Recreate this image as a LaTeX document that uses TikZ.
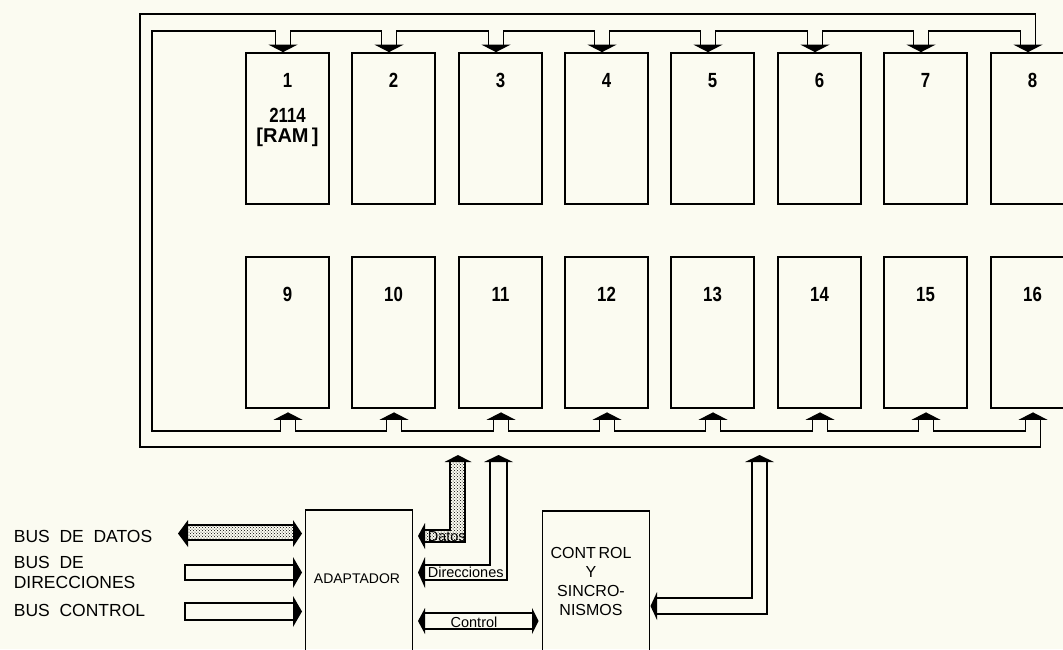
\documentclass[tikz,border=0pt]{standalone}
\usepackage{fontspec}
\setmainfont{Liberation Sans}
\newfontfamily\condfont[FakeStretch=0.82]{Liberation Sans}
\usetikzlibrary{calc,patterns}
\definecolor{paper}{RGB}{251,251,241}
\tikzset{every picture/.style={line width=1.7pt}}
\tikzset{
  chip/.style={draw, minimum width=83pt, minimum height=151pt, inner sep=0pt},
  unit/.style={draw, line width=1.3pt, minimum width=107pt, minimum height=160pt, inner sep=0pt},
  num/.style={font=\condfont\bfseries\fontsize{20.5}{20}\selectfont, inner sep=0pt, anchor=base},
  buslbl/.style={font=\fontsize{17.5}{19}\selectfont, inner sep=0pt, anchor=base west},
  unitlbl/.style={font=\fontsize{14}{16}\selectfont, inner sep=0pt, anchor=base},
  sigl/.style={font=\fontsize{14.5}{16}\selectfont, inner sep=0pt, anchor=base},
  dotfill/.style={pattern=crosshatch dots}
}

\begin{document}
\begin{tikzpicture}[x=1pt,y=-1pt]
\fill[paper] (0,0) rectangle (1063,649);
\useasboundingbox (0,0) rectangle (1063,649);

%memory chips, two rows of eight
\foreach \i/\x in {1/287.5,2/393.5,3/500.5,4/606.5,5/712.5,6/819.5,7/925.5,8/1032.5}{
  \pgfmathtruncatemacro\j{\i+8}
  \node[chip] (c\i) at (\x,128.5) {};
  \node[chip] (c\j) at (\x,332.5) {};
  \node[num] (n\i) at ($(c\i.north)+(0,35)$) {\i};
  \node[num] (n\j) at ($(c\j.north)+(0,45)$) {\j};
  %arrow feet, top row
  \coordinate (hl\i) at ($(c\i.north)+(-12,-7)$);
  \coordinate (hr\i) at ($(c\i.north)+(3,-7)$);
  \fill ($(c\i.north)+(-19,-7.5)$) -- ++(29,0) -- ($(c\i.north)+(-4.5,0)$) -- cycle;
  %arrow feet, bottom row
  \coordinate (hl\j) at ($(c\j.south)+(-7,11)$);
  \coordinate (hr\j) at ($(c\j.south)+(8,11)$);
  \fill ($(c\j.south)+(-14,11)$) -- ++(29,0) -- ($(c\j.south)+(0.5,3.5)$) -- cycle;
}
\node[num] (ram) at ($(c1.north)+(0,70)$) {2114};
\node[num, font=\bfseries\fontsize{20}{20}\selectfont] (ramb) at ($(c1.north)+(0,90)$) {[RAM\,]};

%memory bus
\coordinate (ti) at (0,31);
\coordinate (to) at (0,14);
\coordinate (bi) at (0,431);
\coordinate (bo) at (0,447);
\draw (hr8) -- (hr8 |- to) -- (140,14) -- (140,447) -- (hr16 |- bo) -- (hr16);
\draw (hl1) -- (hl1 |- ti) -- (152,31) -- (152,431) -- (hl9 |- bi) -- (hl9);
\foreach \i [evaluate=\i as \j using int(\i+1)] in {1,...,7,9,10,...,15}{
  \pgfmathtruncatemacro\k{\i>8 ? 1 : 0}
  \ifnum\k=0
    \draw (hr\i) -- (hr\i |- ti) -- (hl\j |- ti) -- (hl\j);
  \else
    \draw (hr\i) -- (hr\i |- bi) -- (hl\j |- bi) -- (hl\j);
  \fi
}

%adapter and control units
\node[unit] (adapt) at (359,590) {};
\node[unitlbl] (adaptl) at (357,583) {ADAPTADOR};
\node[unit] (sync) at (596,591) {};
\node[font=\fontsize{16}{19}\selectfont, align=center, inner sep=0pt, anchor=north] (syncl) at (591,546) {CONT\,ROL\\Y\\SINCRO-\\NISMOS};

%system bus labels
\node[buslbl] (ld) at (13,542) {BUS~~DE~~DATOS};
\node[buslbl] (la) at (13,568) {BUS~~DE};
\node[buslbl] (la2) at (13,588) {DIRECCIONES};
\node[buslbl] (lc) at (13,616) {BUS~~CONTROL};

%data bus to adapter
\fill[dotfill] (188,525) rectangle (293,540);
\draw (188,525) -- (293,525) (188,540) -- (293,540);
\fill (178,533.5) -- (188,520) -- (188,547) -- cycle;
\fill (302,533.5) -- (293,520) -- (293,547) -- cycle;
%address bus to adapter
\draw (293,565) -- (185,565) -- (185,580) -- (293,580);
\fill (302,572.5) -- (293,557) -- (293,588) -- cycle;
%control bus to adapter
\draw (293,603) -- (185,603) -- (185,620) -- (293,620);
\fill (302,611.5) -- (293,596) -- (293,627) -- cycle;

%Datos, adapter to memory
\fill[dotfill] (425,530) -- (450,530) -- (450,462) -- (465,462) -- (465,542) -- (425,542) -- cycle;
\draw (425,530) -- (450,530) -- (450,462);
\draw (465,462) -- (465,542) -- (425,542);
\fill (418,536) -- (425,523) -- (425,549) -- cycle;
\fill (458,455) -- (444.5,462) -- (471.5,462) -- cycle;
\node[sigl, anchor=base west] (ldat) at (427,541) {Datos};
%Direcciones, adapter to memory
\draw (425,565) -- (490,565) -- (490,462);
\draw (507,462) -- (507,580) -- (425,580);
\fill (418,572.5) -- (425,557) -- (425,588) -- cycle;
\fill (498.5,455) -- (484,462) -- (513,462) -- cycle;
\node[sigl, anchor=base west] (ldir) at (427,577) {Direcciones};
%Control, adapter to control unit
\draw (425,613) -- (532,613) (425,629) -- (532,629);
\fill (418,621) -- (425,608) -- (425,634) -- cycle;
\fill (538.5,621) -- (532,608) -- (532,634) -- cycle;
\node[sigl] (lctl) at (474,627) {Control};
%control unit to memory
\draw (657,598) -- (752,598) -- (752,462);
\draw (767,462) -- (767,614) -- (657,614);
\fill (650.5,606) -- (657,592) -- (657,620) -- cycle;
\fill (759.5,455) -- (745,462) -- (774,462) -- cycle;
\end{tikzpicture}
\end{document}
